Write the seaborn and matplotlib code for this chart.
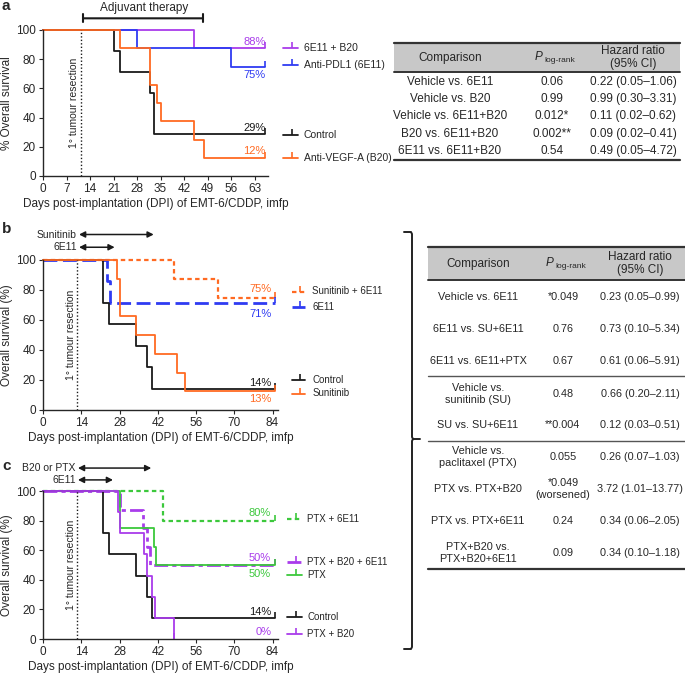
import pandas as pd
import matplotlib
matplotlib.use("Agg")
import matplotlib.pyplot as plt
import seaborn as sns
from matplotlib.transforms import blended_transform_factory

sns.set_style("ticks")
plt.rcParams['font.family'] = ['Liberation Sans', 'DejaVu Sans']

# ---- panel a : survival curves (days, % surviving) ----
a_names = ["6E11 + B20", "Anti-PDL1 (6E11)", "Control", "Anti-VEGF-A (B20)"]
a_days = [[0, 45, 66], [0, 28, 56, 66], [0, 21, 23, 32, 33, 66],
          [0, 23, 32, 34, 35, 45, 48, 66]]
a_surv = [[100, 87.5, 87.5], [100, 87.5, 75, 75], [100, 85.7, 71.4, 57.1, 28.6, 28.6],
          [100, 87.5, 62.5, 50, 37.5, 25, 12.5, 12.5]]
a_pct = ["88%", "75%", "29%", "12%"]

# ---- panel b ----
b_names = ["Sunitinib + 6E11", "6E11", "Control", "Sunitinib"]
b_days = [[0, 48, 64, 85], [0, 23.5, 24.5, 85], [0, 22, 24, 34, 38, 40, 85],
          [0, 27, 28, 34, 41, 49, 52, 85]]
b_surv = [[100, 87.5, 75, 75], [100, 85.7, 71.4, 71.4],
          [100, 71.4, 57.1, 42.9, 28.6, 14.3, 14.3],
          [100, 87.5, 62.5, 50, 37.5, 25, 12.5, 12.5]]
b_pct = ["75%", "71%", "14%", "13%"]

# ---- panel c ----
c_names = ["PTX + 6E11", "PTX + B20 + 6E11", "PTX", "Control", "PTX + B20"]
c_days = [[0, 44, 85], [0, 28, 36.5, 38, 39, 85], [0, 28, 40.5, 41.5, 85],
          [0, 22, 24, 34, 38, 40, 85], [0, 27.5, 28, 37, 38, 40, 41, 48, 48]]
c_surv = [[100, 80, 80], [100, 87.5, 75, 62.5, 50, 50], [100, 75, 62.5, 50, 50],
          [100, 71.4, 57.1, 42.9, 28.6, 14.3, 14.3],
          [100, 85.7, 71.4, 57.1, 42.9, 28.6, 14.3, 0, 0]]
c_pct = ["80%", "50%", "50%", "14%", "0%"]

# ---- tables ----
ta_comp = ["Vehicle vs. 6E11", "Vehicle vs. B20", "Vehicle vs. 6E11+B20",
           "B20 vs. 6E11+B20", "6E11 vs. 6E11+B20"]
ta_p = ["0.06", "0.99", "0.012*", "0.002**", "0.54"]
ta_hr = ["0.22 (0.05\u20131.06)", "0.99 (0.30\u20133.31)", "0.11 (0.02\u20130.62)",
         "0.09 (0.02\u20130.41)", "0.49 (0.05\u20134.72)"]

tb_comp = ["Vehicle vs. 6E11", "6E11 vs. SU+6E11", "6E11 vs. 6E11+PTX",
           "Vehicle vs.\nsunitinib (SU)", "SU vs. SU+6E11",
           "Vehicle vs.\npaclitaxel (PTX)", "PTX vs. PTX+B20", "PTX vs. PTX+6E11",
           "PTX+B20 vs.\nPTX+B20+6E11"]
tb_p = ["*0.049", "0.76", "0.67", "0.48", "**0.004", "0.055",
        "*0.049\n(worsened)", "0.24", "0.09"]
tb_hr = ["0.23 (0.05\u20130.99)", "0.73 (0.10\u20135.34)", "0.61 (0.06\u20135.91)",
         "0.66 (0.20\u20132.11)", "0.12 (0.03\u20130.51)", "0.26 (0.07\u20131.03)",
         "3.72 (1.01\u201313.77)", "0.34 (0.06\u20132.05)", "0.34 (0.10\u20131.18)"]

PURPLE = "#A93CEB"
BLUE = "#2F3BF2"
ORANGE = "#FF6A22"
GREEN = "#3CC83C"
BLACK = "#1a1a1a"

fig = plt.figure(figsize=(6.85, 6.75), dpi=100)

# overlay axes in pixel coordinates for tables / brace / panel letters
ov = fig.add_axes([0, 0, 1, 1])
ov.set_xlim(0, 685)
ov.set_ylim(675, 0)
ov.axis("off")


def px_axes(left, top, right, bottom):
    return fig.add_axes([left / 685, 1 - bottom / 675, (right - left) / 685,
                         (bottom - top) / 675])


def draw_curves(ax, days, surv, styles):
    for d, s, (col, ls, lw) in zip(days, surv, styles):
        df = pd.DataFrame({"day": d, "surv": s})
        sns.lineplot(data=df, x="day", y="surv", ax=ax, drawstyle="steps-post",
                     estimator=None, sort=False, color=col, linestyle=ls,
                     linewidth=lw, clip_on=False)
        ax.plot([d[-1]], [s[-1]], marker=2, ms=4, mew=1.2, color=col,
                clip_on=False)


def style_axes(ax, xmax, xticks, ylabel):
    ax.set_xlim(0, xmax)
    ax.set_ylim(0, 100)
    ax.set_xticks(xticks)
    ax.set_yticks(range(0, 101, 20))
    ax.tick_params(labelsize=8.5, length=3, width=0.8, pad=2)
    ax.set_xlabel("Days post-implantation (DPI) of EMT-6/CDDP, imfp",
                  fontsize=8.5, labelpad=2)
    ax.set_ylabel(ylabel, fontsize=8.5, labelpad=2)
    sns.despine(ax=ax)
    for sp in ("left", "bottom"):
        ax.spines[sp].set_linewidth(1)


def resection(ax, x):
    ax.axvline(x, color=BLACK, ls=(0, (1, 1.5)), lw=1)
    ax.text(x - 0.6, 50, "1\u00b0 tumour resection", rotation=90, ha="right",
            va="center", fontsize=7.5)


def legend_entries(ax, names, ys, styles, x0, x1, xt, fs):
    tr = blended_transform_factory(ax.transAxes, ax.transData)
    for n, y, (col, ls, lw) in zip(names, ys, styles):
        ax.plot([x0, x1], [y, y], transform=tr, color=col, linestyle=ls, lw=lw,
                clip_on=False)
        ax.plot([x0 + 0.6 * (x1 - x0)], [y], transform=tr, marker=2, ms=4,
                mew=1.2, color=col, clip_on=False)
        ax.text(xt, y, n, transform=tr, fontsize=fs, va="center", ha="left")


def pct_labels(ax, labels, ys, cols, x):
    for t, y, c in zip(labels, ys, cols):
        ax.text(x, y, t, color=c, fontsize=8, ha="right", va="center")


def range_arrow(ax, x0, x1, y, label):
    ax.annotate("", xy=(x0, y), xytext=(x1, y),
                arrowprops=dict(arrowstyle="<|-|>,head_length=0.35,head_width=0.18",
                                color=BLACK, lw=1.1, shrinkA=0, shrinkB=0),
                annotation_clip=False)
    ax.text(x0 - 0.8, y, label, ha="right", va="center", fontsize=7.5)


# ---------------- panel a ----------------
axa = px_axes(43, 30, 268, 176)
a_styles = [(PURPLE, "-", 1.3), (BLUE, "-", 1.3), (BLACK, "-", 1.3), (ORANGE, "-", 1.3)]
draw_curves(axa, a_days, a_surv, a_styles)
style_axes(axa, 67, range(0, 64, 7), "% Overall survival")
resection(axa, 11.3)
axa.annotate("", xy=(12, 108), xytext=(47.5, 108),
             arrowprops=dict(arrowstyle="|-|,widthA=0.3,widthB=0.3", color=BLACK,
                             lw=1.5, shrinkA=0, shrinkB=0), annotation_clip=False)
axa.text(30, 114.8, "Adjuvant therapy", ha="center", va="center", fontsize=8.5)
pct_labels(axa, a_pct, [92, 69, 33, 17], [PURPLE, BLUE, BLACK, ORANGE], 66.3)
legend_entries(axa, a_names, [88, 76, 28, 12], a_styles, 1.067, 1.135, 1.16, 7.5)

# ---------------- panel b ----------------
axb = px_axes(43, 260, 278, 410)
b_styles = [(ORANGE, (0, (2, 1.5)), 1.6), (BLUE, (0, (5, 2)), 2.0),
            (BLACK, "-", 1.3), (ORANGE, "-", 1.3)]
draw_curves(axb, b_days, b_surv, b_styles)
style_axes(axb, 86, range(0, 85, 14), "Overall survival (%)")
resection(axb, 12.5)
range_arrow(axb, 13.2, 40.5, 117, "Sunitinib")
range_arrow(axb, 13.2, 26.2, 108.5, "6E11")
pct_labels(axb, b_pct, [81, 64, 18, 7], [ORANGE, BLUE, BLACK, ORANGE], 83.5)
legend_entries(axb, b_names, [79, 69, 20, 11], b_styles, 1.06, 1.115, 1.145, 7)

# ---------------- panel c ----------------
axc = px_axes(43, 491, 278, 639)
c_styles = [(GREEN, (0, (2, 1.5)), 1.6), (PURPLE, (0, (5, 1.5, 1.5, 1.5)), 2.0),
            (GREEN, "-", 1.3), (BLACK, "-", 1.3), (PURPLE, "-", 1.3)]
draw_curves(axc, c_days, c_surv, c_styles)
style_axes(axc, 86, range(0, 85, 14), "Overall survival (%)")
resection(axc, 12.5)
range_arrow(axc, 12.8, 39.6, 115.5, "B20 or PTX")
range_arrow(axc, 12.8, 25.6, 107.5, "6E11")
pct_labels(axc, c_pct, [85, 55, 44, 18, 5], [GREEN, PURPLE, GREEN, BLACK, PURPLE], 83.5)
legend_entries(axc, c_names, [81, 52, 43, 15, 3.5], c_styles, 1.04, 1.10, 1.125, 7)

# ---------------- panel letters ----------------
for lbl, y in (("a", 6), ("b", 229), ("c", 466)):
    ov.text(2, y, lbl, fontsize=11, fontweight="bold", va="center", ha="left")


# ---------------- tables ----------------
def p_header(x, y):
    ov.text(x - 1, y, "P", fontstyle="italic", fontsize=8.5, ha="right", va="center")
    ov.text(x, y + 3, "log-rank", fontsize=6, ha="left", va="center")


def table(x0, x1, top, hbot, rows_y, bottom, seps, cx, comp, pv, hr, fs):
    ov.fill_between([x0, x1], top, hbot, color="#C8C8C8", lw=0)
    ov.plot([x0, x1], [top, top], color="#333333", lw=1.6)
    ov.plot([x0, x1], [hbot, hbot], color="#333333", lw=1.4)
    ov.plot([x0, x1], [bottom, bottom], color="#333333", lw=1.6)
    for s in seps:
        ov.plot([x0, x1], [s, s], color="#555555", lw=1.0)
    hy = (top + hbot) / 2
    ov.text(cx[0], hy, "Comparison", ha="center", va="center", fontsize=8.5)
    p_header(cx[1] - 8, hy)
    ov.text(cx[2], hy, "Hazard ratio\n(95% CI)", ha="center", va="center",
            fontsize=8.5, linespacing=1.2)
    for y, c, p, h in zip(rows_y, comp, pv, hr):
        ov.text(cx[0], y, c, ha="center", va="center", fontsize=fs, linespacing=1.35)
        ov.text(cx[1], y, p, ha="center", va="center", fontsize=fs, linespacing=1.25)
        ov.text(cx[2], y, h, ha="center", va="center", fontsize=fs)


table(394, 680, 43, 72, [82, 99, 116, 134, 151], 160, [],
      (450, 552, 633), ta_comp, ta_p, ta_hr, 8.5)
table(428, 685, 247, 280, [297, 329, 361, 394, 425, 457, 489, 521, 553], 569,
      [376, 441], (478, 563, 640), tb_comp, tb_p, tb_hr, 7.8)

# brace joining panels b and c to the table
ov.plot([404, 411, 412, 412, 413, 420], [232, 232, 234, 437, 439, 439],
        color="#222222", lw=1.4)
ov.plot([404, 411, 412, 412, 413], [649, 649, 647, 441, 439],
        color="#222222", lw=1.4)

fig.savefig("out.png", dpi=100)
